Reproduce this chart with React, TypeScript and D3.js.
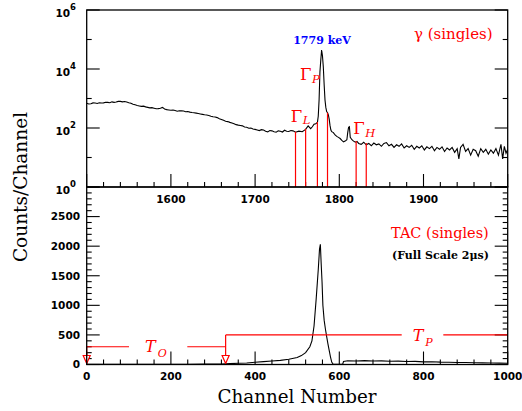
import React from 'react';
import * as d3 from 'd3';

// ---------- data: gamma singles (top panel) ----------
const gammaChannels = [
  1500, 1502.5, 1505, 1507.5, 1510, 1512.5, 1515, 1517.5, 1520, 1522.5, 1525, 1527.5, 1530, 1532.5,
  1535, 1537.5, 1540, 1542.5, 1545, 1547.5, 1550, 1552.5, 1555, 1557.5, 1560, 1562.5, 1565, 1567.5,
  1570, 1572.5, 1575, 1577.5, 1580, 1582.5, 1585, 1587.5, 1590, 1592.5, 1595, 1597.5, 1600, 1602.5,
  1605, 1607.5, 1610, 1612.5, 1615, 1617.5, 1620, 1622.5, 1625, 1627.5, 1630, 1632.5, 1635, 1637.5,
  1640, 1642.5, 1645, 1647.5, 1650, 1652.5, 1655, 1657.5, 1660, 1662.5, 1665, 1667.5, 1670, 1672.5,
  1675, 1677.5, 1680, 1682.5, 1685, 1687.5, 1690, 1692.5, 1695, 1697.5, 1700, 1702.5, 1705, 1707.5,
  1710, 1712.5, 1715, 1717.5, 1720, 1722.5, 1725, 1727.5, 1730, 1732.5, 1735, 1737.5, 1740, 1742.5,
  1745, 1748, 1752, 1756, 1760, 1763, 1766, 1768, 1770, 1772, 1774, 1775, 1776, 1777, 1778,
  1779, 1780, 1781, 1782, 1783, 1784, 1785, 1786, 1787, 1788, 1789, 1790, 1791, 1793, 1795, 1797,
  1799, 1801, 1803, 1805, 1807, 1809, 1810, 1811, 1812, 1813, 1815, 1817, 1819, 1821, 1823, 1826,
  1829, 1832, 1835, 1838, 1841, 1844, 1847, 1850, 1853, 1856, 1859, 1862, 1865, 1868, 1871, 1874,
  1877, 1880, 1883, 1886, 1889, 1892, 1895, 1898, 1901, 1904, 1907, 1910, 1913, 1916, 1919, 1922,
  1925, 1928, 1931, 1934, 1937, 1940, 1942, 1944, 1947, 1950, 1953, 1956, 1959, 1962, 1965, 1968,
  1971, 1974, 1977, 1980, 1983, 1986, 1989, 1992, 1994, 1996, 1998, 2000,
];
const gammaCounts = [
  690, 650, 660, 710, 700, 680, 720, 700, 710, 750, 740, 720, 770, 740,
  760, 800, 800, 770, 790, 760, 720, 690, 640, 610, 580, 560, 540, 550,
  520, 500, 480, 490, 470, 450, 455, 470, 500, 440, 420, 410, 400, 405,
  390, 370, 385, 380, 375, 355, 360, 345, 335, 330, 320, 310, 300, 290,
  280, 275, 265, 250, 240, 235, 225, 205, 195, 182, 170, 165, 155, 148,
  140, 130, 125, 122, 118, 108, 106, 98, 100, 92, 90, 86, 82, 88,
  85, 78, 74, 82, 80, 75, 72, 80, 78, 73, 84, 78, 76, 82,
  80, 72, 78, 75, 90, 118, 95, 110, 135, 140, 155, 250, 900, 8000, 20000,
  44000, 28000, 12000, 3000, 900, 500, 360, 330, 280, 200, 120, 85, 75, 70, 58, 52,
  48, 44, 38, 34, 36, 40, 70, 105, 110, 48, 40, 36, 33, 35, 30, 28,
  33, 27, 30, 25, 31, 27, 29, 24, 30, 32, 25, 28, 22, 27, 24, 29,
  21, 25, 22, 26, 19, 24, 21, 25, 18, 23, 20, 24, 17, 22, 19, 23,
  16, 21, 18, 22, 15, 20, 9, 22, 28, 16, 20, 12, 19, 17, 11, 20,
  15, 19, 13, 18, 14, 20, 12, 28, 9, 24, 14, 19,
];
// gate lines (channel, top of line in counts)
const gammaGateChannels = [1748, 1760, 1774, 1786, 1820, 1832];
const gammaGateTops = [75, 95, 160, 330, 36, 31];

// ---------- data: TAC singles (bottom panel) ----------
const tacChannels = [
  0, 40, 80, 120, 160, 200, 240, 280, 320, 340, 360, 380, 400, 420, 440, 460, 480, 500, 510, 520,
  530, 535, 540, 545, 550, 553, 555, 557, 559, 561, 564, 567, 570, 573, 576, 579, 582, 585, 590,
  600, 608, 610, 620, 640, 660, 680, 700, 720, 740, 760, 780, 800, 820, 840, 860, 880, 900, 920,
  940, 960, 980, 1000,
];
const tacCounts = [
  2, 3, 2, 4, 3, 5, 4, 6, 8, 15, 20, 25, 38, 48, 58, 70, 88, 118, 150, 200,
  300, 400, 650, 1100, 1600, 1950, 2030, 1700, 1400, 1000, 750, 600, 470, 350, 240, 130, 40, 8, 3,
  2, 5, 50, 62, 60, 66, 58, 62, 55, 57, 50, 52, 44, 46, 40, 38, 34, 33, 30,
  28, 26, 24, 22,
];
// timing gates (channels, levels in counts)
const tacGateChannels = [0, 330, 1000];
const tacGateLevels = [300, 500];

// ---------- tick values ----------
const topXMajor = [1500, 1600, 1700, 1800, 1900, 2000];
const topXLabels = [1600, 1700, 1800, 1900];
const topYExps = [0, 1, 2, 3, 4, 5, 6];
const topYLabelExps = [0, 2, 4, 6];
const botXMajor = [0, 200, 400, 600, 800, 1000];
const botYMajor = [0, 500, 1000, 1500, 2000, 2500, 3000];
const botYLabels = [0, 500, 1000, 1500, 2000, 2500];

const RED = '#ff0000';
const TICKFONT = 'DejaVu Sans';
const SERIF = 'DejaVu Serif';

export default function App() {
  const L = 86.7, R = 507.7, T = 10, MID = 187, B = 364.5;
  const xTop = d3.scaleLinear().domain([1500, 2000]).range([L, R]);
  const yTop = d3.scaleLog().domain([1, 1e6]).range([MID, T]);
  const xBot = d3.scaleLinear().domain([0, 1000]).range([L, R]);
  const yBot = d3.scaleLinear().domain([0, 3000]).range([B, MID]);

  const gammaLine = d3.line<number>()
    .x((_, i) => xTop(gammaChannels[i]))
    .y((d) => yTop(Math.max(d, 1)))(gammaCounts);
  const tacLine = d3.line<number>()
    .x((_, i) => xBot(tacChannels[i]))
    .y((d) => yBot(d))(tacCounts);

  const MAJ = 13, MIN = 5;
  const topXMinor = d3.range(1500, 2001, 20).filter((v) => v % 100 !== 0);
  const botXMinor = d3.range(0, 1001, 40).filter((v) => v % 200 !== 0);
  const botYMinor = d3.range(0, 3001, 100).filter((v) => v % 500 !== 0);

  const tickStyle = { stroke: '#000', strokeWidth: 1.1 };

  const arrow = (cx: number) => {
    const tip = B - 1, base = B - 9, hw = 3.5;
    return `M${cx - hw},${base}L${cx + hw},${base}L${cx},${tip}Z`;
  };

  const x0 = xBot(tacGateChannels[0]);
  const x1 = xBot(tacGateChannels[1]);
  const x2 = xBot(tacGateChannels[2]);
  const yTo = yBot(tacGateLevels[0]);
  const yTp = yBot(tacGateLevels[1]);

  return (
    <svg width={522} height={411} style={{ position: 'absolute', left: 0, top: 0, background: '#fff' }}>
      <defs>
        <clipPath id="topclip"><rect x={L} y={T} width={R - L} height={MID - T} /></clipPath>
        <clipPath id="botclip"><rect x={L} y={MID} width={R - L} height={B - MID} /></clipPath>
      </defs>
      <rect x={0} y={0} width={522} height={411} fill="#fff" />

      {/* ---- top panel ticks ---- */}
      {topXMajor.map((v) => (
        <line key={'txM' + v} x1={xTop(v)} x2={xTop(v)} y1={MID} y2={MID - MAJ} {...tickStyle} />
      ))}
      {topXMinor.map((v) => (
        <line key={'txm' + v} x1={xTop(v)} x2={xTop(v)} y1={MID} y2={MID - MIN} {...tickStyle} />
      ))}
      {topYExps.map((e) => {
        const len = e % 2 === 0 ? MAJ : MIN;
        const y = yTop(Math.pow(10, e));
        return (
          <g key={'ty' + e}>
            <line x1={L} x2={L + len} y1={y} y2={y} {...tickStyle} />
            <line x1={R} x2={R - len} y1={y} y2={y} {...tickStyle} />
          </g>
        );
      })}
      {topXLabels.map((v) => (
        <text key={'txl' + v} x={xTop(v)} y={203} textAnchor="middle" fontFamily={TICKFONT}
          fontWeight="bold" fontSize={10.5}>{v}</text>
      ))}
      {topYLabelExps.map((e) => (
        <text key={'tyl' + e} x={76} y={yTop(Math.pow(10, e)) + 6.5} textAnchor="end"
          fontFamily={TICKFONT} fontWeight="bold" fontSize={10.5}>
          10<tspan fontSize={8.5} dy={-6.5}>{e}</tspan>
        </text>
      ))}

      {/* ---- top spectrum ---- */}
      <path d={gammaLine || ''} fill="none" stroke="#000" strokeWidth={1.1} clipPath="url(#topclip)" />
      {gammaGateChannels.map((c, i) => (
        <line key={'gg' + c} x1={xTop(c)} x2={xTop(c)} y1={MID} y2={yTop(gammaGateTops[i])}
          stroke={RED} strokeWidth={1.2} />
      ))}

      {/* ---- bottom panel ticks ---- */}
      {botXMajor.map((v) => (
        <line key={'bxM' + v} x1={xBot(v)} x2={xBot(v)} y1={B} y2={B - MAJ} {...tickStyle} />
      ))}
      {botXMinor.map((v) => (
        <line key={'bxm' + v} x1={xBot(v)} x2={xBot(v)} y1={B} y2={B - MIN} {...tickStyle} />
      ))}
      {botYMajor.map((v) => (
        <g key={'byM' + v}>
          <line x1={L} x2={L + MAJ} y1={yBot(v)} y2={yBot(v)} {...tickStyle} />
          <line x1={R} x2={R - MAJ} y1={yBot(v)} y2={yBot(v)} {...tickStyle} />
        </g>
      ))}
      {botYMinor.map((v) => (
        <g key={'bym' + v}>
          <line x1={L} x2={L + MIN} y1={yBot(v)} y2={yBot(v)} {...tickStyle} />
          <line x1={R} x2={R - MIN} y1={yBot(v)} y2={yBot(v)} {...tickStyle} />
        </g>
      ))}
      {botXMajor.map((v) => (
        <text key={'bxl' + v} x={xBot(v)} y={380} textAnchor="middle" fontFamily={TICKFONT}
          fontWeight="bold" fontSize={10.5}>{v}</text>
      ))}
      {botYLabels.map((v) => (
        <text key={'byl' + v} x={80} y={yBot(v) + 3.8} textAnchor="end" fontFamily={TICKFONT}
          fontWeight="bold" fontSize={10.5}>{v}</text>
      ))}

      {/* ---- bottom spectrum ---- */}
      <path d={tacLine || ''} fill="none" stroke="#000" strokeWidth={1.1} clipPath="url(#botclip)" />

      {/* ---- timing gates ---- */}
      <g stroke={RED} strokeWidth={1.2} fill="none">
        <line x1={x0} x2={129} y1={yTo} y2={yTo} />
        <line x1={187.3} x2={x1} y1={yTo} y2={yTo} />
        <line x1={x1} x2={x1} y1={yTp} y2={B - 9} />
        <line x1={x1} x2={401.7} y1={yTp} y2={yTp} />
        <line x1={443.3} x2={x2} y1={yTp} y2={yTp} />
        <line x1={x0} x2={x0} y1={yTo} y2={B - 9} />
        <path d={arrow(x0)} fill="#fff" />
        <path d={arrow(x1)} fill="#fff" />
      </g>

      {/* ---- frames ---- */}
      <rect x={L} y={T} width={R - L} height={MID - T} fill="none" stroke="#000" strokeWidth={1.3} />
      <rect x={L} y={MID} width={R - L} height={B - MID} fill="none" stroke="#000" strokeWidth={1.3} />

      {/* ---- annotations ---- */}
      <text x={322} y={44} textAnchor="middle" fill="#0000ff" fontFamily={SERIF} fontWeight="bold"
        fontSize={11}>1779 keV</text>
      <text x={414} y={38.5} fill={RED} fontFamily={SERIF} fontSize={15}>γ (singles)</text>
      <text x={300} y={80} fill={RED} fontFamily={SERIF} fontSize={16.5}>Γ<tspan fontStyle="italic"
        fontSize={11.5} dx={0.5} dy={3.3}>P</tspan></text>
      <text x={290.7} y={121.7} fill={RED} fontFamily={SERIF} fontSize={16.5}>Γ<tspan fontStyle="italic"
        fontSize={11.5} dx={0.5} dy={2.5}>L</tspan></text>
      <text x={353.3} y={134.3} fill={RED} fontFamily={SERIF} fontSize={16.5}>Γ<tspan fontStyle="italic"
        fontSize={11.5} dx={0.5} dy={3}>H</tspan></text>

      <text x={391} y={238} fill={RED} fontFamily={SERIF} fontSize={14.5}>TAC (singles)</text>
      <text x={392} y={259} fill="#000" fontFamily={SERIF} fontWeight="bold" fontSize={11}>(Full Scale 2μs)</text>

      <text x={145} y={352.3} fill={RED} fontFamily={SERIF} fontStyle="italic" fontSize={16}>T<tspan
        fontSize={11} dx={2} dy={5}>O</tspan></text>
      <text x={412.7} y={341} fill={RED} fontFamily={SERIF} fontStyle="italic" fontSize={16}>T<tspan
        fontSize={11} dx={2} dy={4.7}>P</tspan></text>

      {/* ---- axis titles ---- */}
      <text transform="translate(27,187) rotate(-90)" textAnchor="middle" fontFamily={SERIF}
        fontSize={18.5}>Counts/Channel</text>
      <text x={297} y={402.5} textAnchor="middle" fontFamily={SERIF} fontSize={18.3}>Channel Number</text>
    </svg>
  );
}
